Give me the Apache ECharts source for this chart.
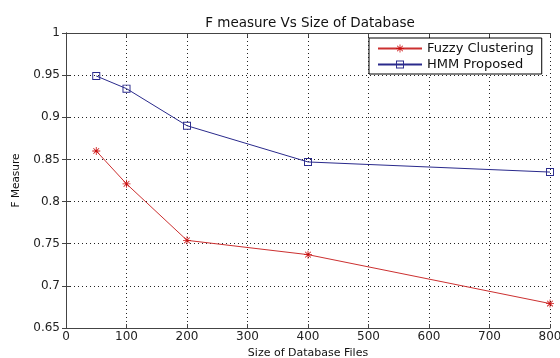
<!DOCTYPE html>
<html>
<head>
<meta charset="utf-8">
<script src="https://cdn.jsdelivr.net/npm/echarts@6/dist/echarts.min.js"></script>
<style>html,body{margin:0;padding:0;background:#fff;}#c{width:560px;height:358px;}</style>
</head>
<body>
<div id="c"></div>
<script>
var sizes = [50, 100, 200, 400, 800];
var fuzzy = [0.860, 0.821, 0.754, 0.737, 0.679];
var hmm = [0.949, 0.934, 0.890, 0.847, 0.835];
var seriesNames = ['Fuzzy Clustering', 'HMM Proposed'];
var titleText = 'F measure Vs Size of Database';
var xName = 'Size of Database Files';
var yName = 'F Measure';

var star = 'path://M-1,-10L1,-10L1,10L-1,10Z M-10,-1L10,-1L10,1L-10,1Z M-7.8,-6.4L-6.4,-7.8L7.8,6.4L6.4,7.8Z M6.4,-7.8L7.8,-6.4L-6.4,7.8L-7.8,6.4Z';
var hollowSq = 'path://M0,0L10,0L10,10L0,10Z M1.2,1.2L1.2,8.8L8.8,8.8L8.8,1.2Z';
function pairs(xs, ys){ return xs.map(function(x,i){ return [x, ys[i]]; }); }

var font = 'DejaVu Sans, sans-serif';
var axisCol = '#444';
var chart = echarts.init(document.getElementById('c'), null, {renderer:'canvas'});
chart.setOption({
  animation: false,
  backgroundColor: '#fff',
  textStyle: {fontFamily: font},
  title: {text: titleText, left: 305, textAlign: 'center', top: 11,
    textStyle: {fontSize: 13.5, fontWeight: 'normal', color: '#111', fontFamily: font}},
  legend: {
    orient: 'vertical', left: 369, top: 38,
    padding: [4, 8, 3, 8], itemGap: 3, itemWidth: 44, itemHeight: 10,
    borderColor: '#000', borderWidth: 1, backgroundColor: '#fff',
    textStyle: {fontSize: 13, color: '#111', fontFamily: font},
    data: seriesNames
  },
  grid: {left: 66, right: 10, top: 33, bottom: 30, containLabel: false, outerBoundsMode: 'none'},
  xAxis: [{
    type: 'value', min: 0, max: 800, interval: 100, position: 'bottom',
    name: xName, nameLocation: 'middle', nameGap: 18,
    nameTextStyle: {fontSize: 11, color: '#111'},
    axisLine: {show: true, lineStyle: {color: axisCol, width: 1}},
    axisTick: {show: true, inside: true, length: 4, lineStyle: {color: axisCol}},
    axisLabel: {fontSize: 12, color: '#222', margin: 3},
    splitLine: {show: true, lineStyle: {type: [1, 3], color: '#222', width: 1}}
  }, {
    type: 'value', min: 0, max: 800, interval: 100, position: 'top',
    axisLine: {show: true, lineStyle: {color: axisCol, width: 1}},
    axisTick: {show: true, inside: true, length: 4, lineStyle: {color: axisCol}},
    axisLabel: {show: false}, splitLine: {show: false}
  }],
  yAxis: [{
    type: 'value', min: 0.65, max: 1, interval: 0.05, position: 'left',
    name: yName, nameLocation: 'middle', nameGap: 44,
    nameTextStyle: {fontSize: 10.5, color: '#111'},
    axisLine: {show: true, lineStyle: {color: axisCol, width: 1}},
    axisTick: {show: true, inside: true, length: 4, lineStyle: {color: axisCol}},
    axisLabel: {fontSize: 12, color: '#222', margin: 6,
      formatter: function(v){ return String(Math.round(v*100)/100); }},
    splitLine: {show: true, lineStyle: {type: [1, 3], color: '#222', width: 1}}
  }, {
    type: 'value', min: 0.65, max: 1, interval: 0.05, position: 'right',
    axisLine: {show: true, lineStyle: {color: axisCol, width: 1}},
    axisTick: {show: true, inside: true, length: 4, lineStyle: {color: axisCol}},
    axisLabel: {show: false}, splitLine: {show: false}
  }],
  series: [{
    name: seriesNames[0], type: 'line', data: pairs(sizes, fuzzy),
    color: '#cc2020', symbol: star, symbolSize: 8, showAllSymbol: true,
    lineStyle: {width: 1, color: '#cc3030'}, itemStyle: {color: '#cc1010'}
  }, {
    name: seriesNames[1], type: 'line', data: pairs(sizes, hmm),
    color: '#2a2a8c', symbol: hollowSq, symbolSize: 8, showAllSymbol: true,
    lineStyle: {width: 1, color: '#2a2a8c'}, itemStyle: {color: '#2a2a8c'}
  }]
});
</script>
</body>
</html>
